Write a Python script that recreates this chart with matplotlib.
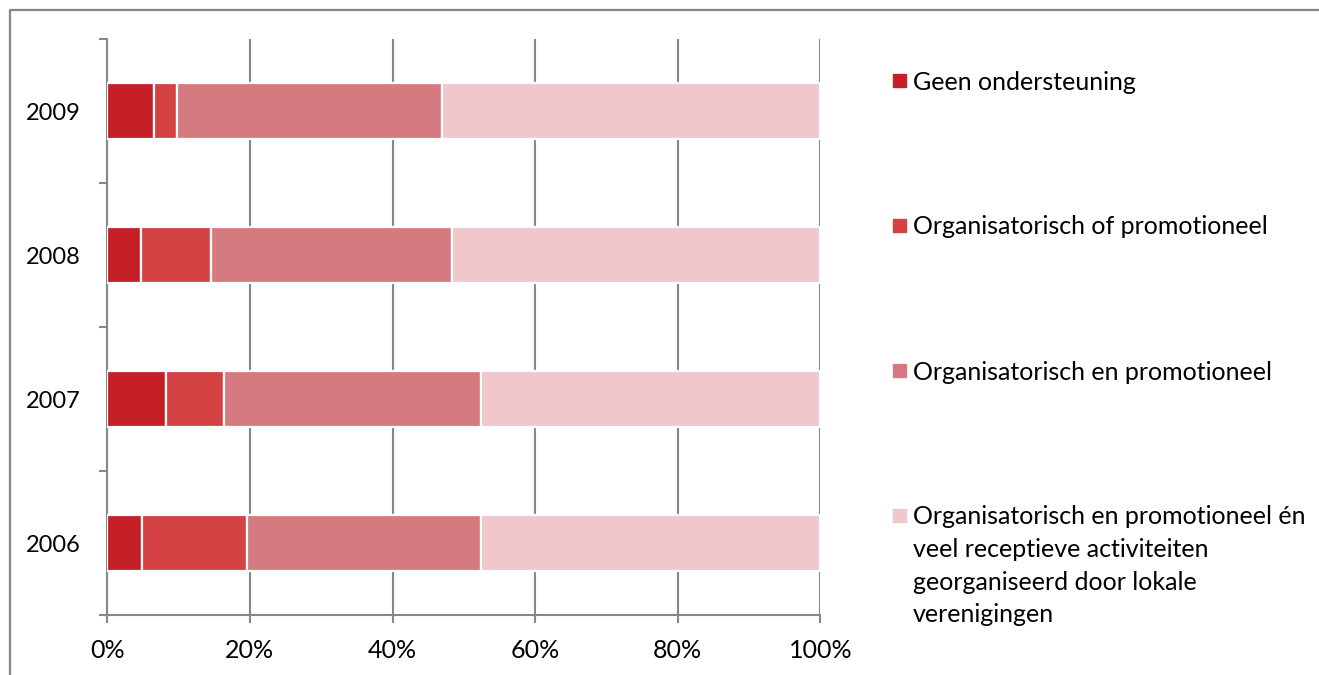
import matplotlib
matplotlib.use("Agg")
import matplotlib.pyplot as plt
from matplotlib.patches import Rectangle
from matplotlib.lines import Line2D
import numpy as np

years = ["2006", "2007", "2008", "2009"]
series_names = [
    "Geen ondersteuning",
    "Organisatorisch of promotioneel",
    "Organisatorisch en promotioneel",
    "Organisatorisch en promotioneel én\nveel receptieve activiteiten\ngeorganiseerd door lokale\nverenigingen",
]
geen = [4.8, 8.2, 4.7, 6.5]
org_of_promo = [14.8, 8.1, 9.8, 3.3]
org_en_promo = [32.8, 36.1, 33.8, 37.1]
org_en_promo_lokaal = [47.6, 47.6, 51.7, 53.1]
x_ticklabels = ["0%", "20%", "40%", "60%", "80%", "100%"]

colors = ["#c41f26", "#d44244", "#d57a80", "#f0c7ca"]
grid_c = "#878787"

plt.rcParams["font.family"] = ["Lato", "DejaVu Sans"]
FS = 18

W, H = 1319, 675
fig = plt.figure(figsize=(W / 100, H / 100), dpi=100)
ax = fig.add_axes([107.3 / W, 1 - 615 / H, (820.3 - 107.3) / W, (615 - 39) / H])

data = [geen, org_of_promo, org_en_promo, org_en_promo_lokaal]
ypos = np.arange(len(years))
left = np.zeros(len(years))
for vals, name, c in zip(data, series_names, colors):
    vals = np.array(vals, dtype=float)
    ax.barh(ypos, vals, left=left, height=0.39, color=c, edgecolor="white",
            linewidth=1.6, zorder=3, label=name)
    left += vals

ax.set_xlim(0, 100)
ax.set_ylim(-0.5, len(years) - 0.5)
ax.set_xticks(np.arange(0, 101, 20))
ax.set_xticklabels(x_ticklabels, fontsize=FS)
ax.set_yticks(ypos)
ax.set_yticklabels(years, fontsize=17)
ax.set_yticks(np.arange(-0.5, len(years), 1.0), minor=True)
ax.tick_params(axis="y", which="major", length=0, pad=19)
ax.tick_params(axis="y", which="minor", length=6, width=1.5, color=grid_c, direction="out")
ax.tick_params(axis="x", which="major", length=6, width=1.5, color=grid_c, direction="out", pad=11)
ax.grid(axis="x", color=grid_c, linewidth=1.5, zorder=0)
for s in ["top", "right"]:
    ax.spines[s].set_visible(False)
for s in ["left", "bottom"]:
    ax.spines[s].set_color(grid_c)
    ax.spines[s].set_linewidth(1.5)
    ax.spines[s].set_zorder(1)

# legend (manual, Excel-like)
leg_y = [80.5, 225.5, 370.5, 515.5]
for name, c, yc in zip(series_names, colors, leg_y):
    fig.patches.append(Rectangle((893 / W, 1 - (yc + 6.5) / H), 13 / W, 13 / H,
                                 transform=fig.transFigure, color=c, figure=fig))
    fig.text(913 / W, 1 - (yc - 10) / H, name, fontsize=FS, va="top", ha="left",
             linespacing=1.5)

# outer frame
fig.lines.append(Line2D([10 / W, 10 / W, 1.0], [0.0, 1 - 10 / H, 1 - 10 / H],
                        transform=fig.transFigure, color=grid_c, linewidth=1.6))

fig.savefig("out.png", dpi=100)
